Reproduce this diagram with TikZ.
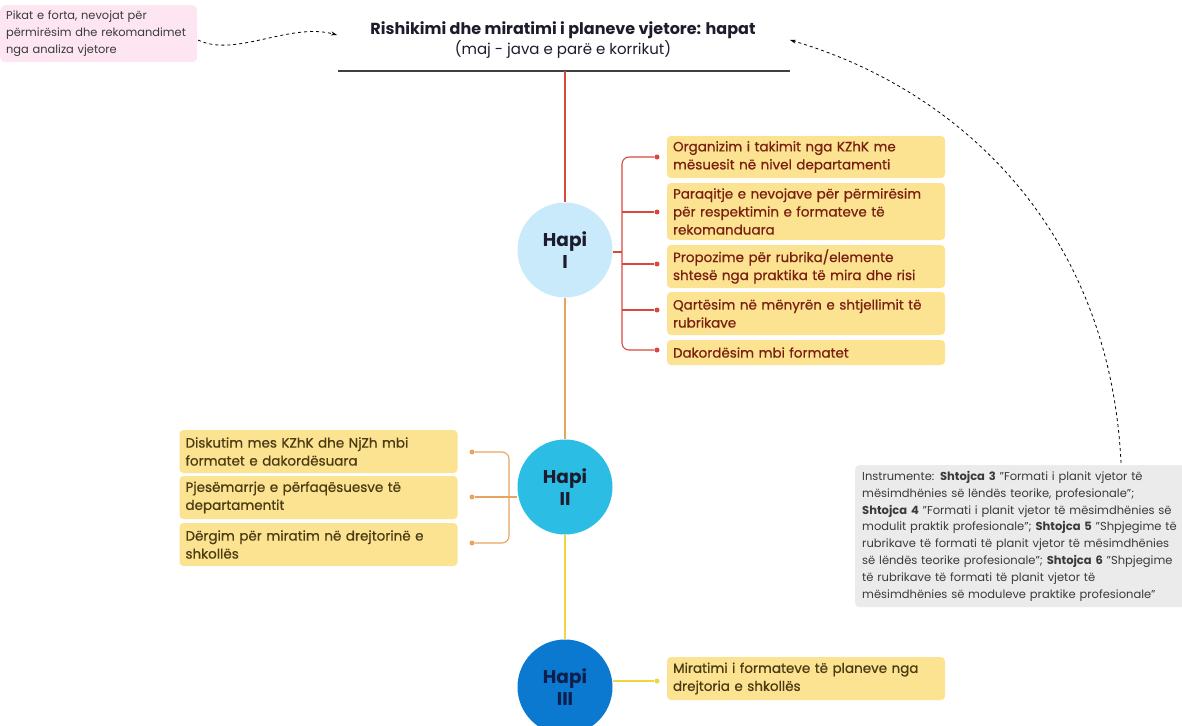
\documentclass[tikz,border=0pt]{standalone}
\usepackage{fontspec}
\setmainfont{Poppins}
\newfontfamily\medfont[FakeBold=0.6]{Poppins}
\usetikzlibrary{arrows.meta}
\definecolor{pinkbg}{HTML}{FDE6F1}
\definecolor{titlec}{HTML}{1C1C2C}
\definecolor{redl}{HTML}{D9483F}
\definecolor{orangel}{HTML}{E6A45E}
\definecolor{yellowl}{HTML}{F0D441}
\definecolor{boxbg}{HTML}{FBE391}
\definecolor{txtone}{HTML}{7A1F10}
\definecolor{txttwo}{HTML}{4B3A12}
\definecolor{cone}{HTML}{C8EAFB}
\definecolor{ctwo}{HTML}{2CBDE5}
\definecolor{cthree}{HTML}{0A79CF}
\definecolor{cthreetxt}{HTML}{0F1F4D}
\definecolor{graybg}{HTML}{EBEBEB}
\definecolor{graytxt}{HTML}{3A3A3A}
\tikzset{
  stepbox/.style={fill=boxbg, rounded corners=4pt, inner xsep=6pt, inner ysep=0pt,
    text width=266pt, align=left, font=\medfont\fontsize{13.5}{18}\selectfont},
  onebox/.style={stepbox, text=txtone, minimum width=278pt},
  twobox/.style={stepbox, text=txttwo, minimum width=277pt},
  hapi/.style={circle, minimum size=95pt, inner sep=0pt, align=center,
    font=\bfseries\fontsize{18.5}{22}\selectfont},
  dot/.style={circle, fill, inner sep=0pt, minimum size=5pt},
  dasharrow/.style={dashed, line width=0.8pt, -{Stealth[length=6pt,width=4pt]}},
}
\begin{document}
\begin{tikzpicture}[x=1pt,y=-1pt]
\useasboundingbox (0,0) rectangle (1182,725);

% pink note
\node[fill=pinkbg, rounded corners=5pt, anchor=north west, minimum width=197pt, minimum height=57pt,
  inner xsep=6pt, inner ysep=4pt, align=left, text width=185pt, text=graytxt,
  font=\fontsize{11.4}{17}\selectfont] (note) at (0,5)
  {Pikat e forta, nevojat për\\përmirësim dhe rekomandimet\\nga analiza vjetore};

% title
\node[text=titlec, font=\bfseries\fontsize{16}{20}\selectfont] (title) at (563,30)
  {Rishikimi dhe miratimi i planeve vjetore: hapat};
\node[text=titlec, font=\fontsize{15}{19}\selectfont] (subtitle) at (563,49)
  {(maj - java e parë e korrikut)};
\coordinate (ruleL) at (338,71);
\coordinate (ruleR) at (790,71);
\draw[line width=1.3pt, black!75] (ruleL) -- (ruleR);
\coordinate (rulemid) at (565,71);

% circles
\node[hapi, fill=cone, text=titlec] (h1) at (565,250) {Hapi\\I};
\node[hapi, fill=ctwo, text=titlec] (h2) at (565,487) {Hapi\\II};
\node[hapi, fill=cthree, text=cthreetxt] (h3) at (565,687) {Hapi\\III};

\draw[redl, line width=1.2pt] (rulemid) -- (h1.north);
\draw[orangel, line width=1.2pt] (h1.south) -- (h2.north);
\draw[yellowl, line width=1.2pt] (h2.south) -- (h3.north);

% Hapi I boxes
\node[onebox, minimum height=42pt] (b11) at (806,157) {Organizim i takimit nga KZhK me\\mësuesit në nivel departamenti};
\node[onebox, minimum height=57pt] (b12) at (806,211.5) {Paraqitje e nevojave për përmirësim\\për respektimin e formateve të\\rekomanduara};
\node[onebox, minimum height=43pt] (b13) at (806,266.5) {Propozime për rubrika/elemente\\shtesë nga praktika të mira dhe risi};
\node[onebox, minimum height=43pt] (b14) at (806,313.5) {Qartësim në mënyrën e shtjellimit të\\rubrikave};
\node[onebox, minimum height=25pt] (b15) at (806,352.5) {Dakordësim mbi formatet};

\foreach \i/\y in {1/157,2/212,3/264,4/310,5/350}{
  \node[dot, redl] (d1\i) at (657,\y) {};
}
\coordinate (br1) at (622,252);
\draw[redl, line width=1.1pt] (h1.east |- br1) -- (br1);
\draw[redl, line width=1.1pt, rounded corners=7pt] (d11) -| (br1) |- (d15);
\foreach \i/\y in {2/212,3/264,4/310}{
  \draw[redl, line width=1.1pt] (622,\y) -- (d1\i);
}

% Hapi II boxes
\node[twobox, minimum height=43pt] (b21) at (318.5,451.5) {Diskutim mes KZhK dhe NjZh mbi\\formatet e dakordësuara};
\node[twobox, minimum height=43pt] (b22) at (318.5,497.5) {Pjesëmarrje e përfaqësuesve të\\departamentit};
\node[twobox, minimum height=43pt] (b23) at (318.5,544.5) {Dërgim për miratim në drejtorinë e\\shkollës};

\foreach \i/\y in {1/452,2/497,3/543}{
  \node[dot, orangel] (d2\i) at (472,\y) {};
}
\coordinate (br2) at (509,497);
\draw[orangel, line width=1.1pt] (h2.west |- br2) -- (br2);
\draw[orangel, line width=1.1pt, rounded corners=7pt] (d21) -| (br2) |- (d23);
\draw[orangel, line width=1.1pt] (br2) -- (d22);

% Hapi III
\node[twobox, minimum height=43pt] (b31) at (806,678.5) {Miratimi i formateve të planeve nga\\drejtoria e shkollës};
\node[dot, yellowl] (d31) at (657,681) {};
\draw[yellowl, line width=1.1pt] (h3.east |- d31) -- (d31);

% gray instruments box
\node[fill=graybg, rounded corners=4pt, anchor=north west, minimum width=330pt, minimum height=135pt,
  inner xsep=7pt, inner ysep=6pt, text width=316pt, align=left, text=graytxt,
  font=\fontsize{11.5}{16.8}\selectfont] (instr) at (855,465)
  {Instrumente: \textbf{Shtojca 3} "Formati i planit vjetor të\\
   mësimdhënies së lëndës teorike, profesionale";\\
   \textbf{Shtojca 4} "Formati i planit vjetor të mësimdhënies së\\
   modulit praktik profesionale"; \textbf{Shtojca 5} "Shpjegime të\\
   rubrikave të formati të planit vjetor të mësimdhënies\\
   së lëndës teorike profesionale"; \textbf{Shtojca 6} "Shpjegime\\
   të rubrikave të formati të planit vjetor të\\
   mësimdhënies së moduleve praktike profesionale"};

% dashed arrows
\coordinate (noteout) at (198,40);
\coordinate (titlein) at (337,35);
\draw[dasharrow] (noteout) .. controls (235,58) and (290,22) .. (titlein);
\coordinate (instrtop) at (1121,463);
\coordinate (titleR) at (790,40);
\draw[dasharrow] (instrtop) .. controls (1110,230) and (960,90) .. (titleR);
\end{tikzpicture}
\end{document}
